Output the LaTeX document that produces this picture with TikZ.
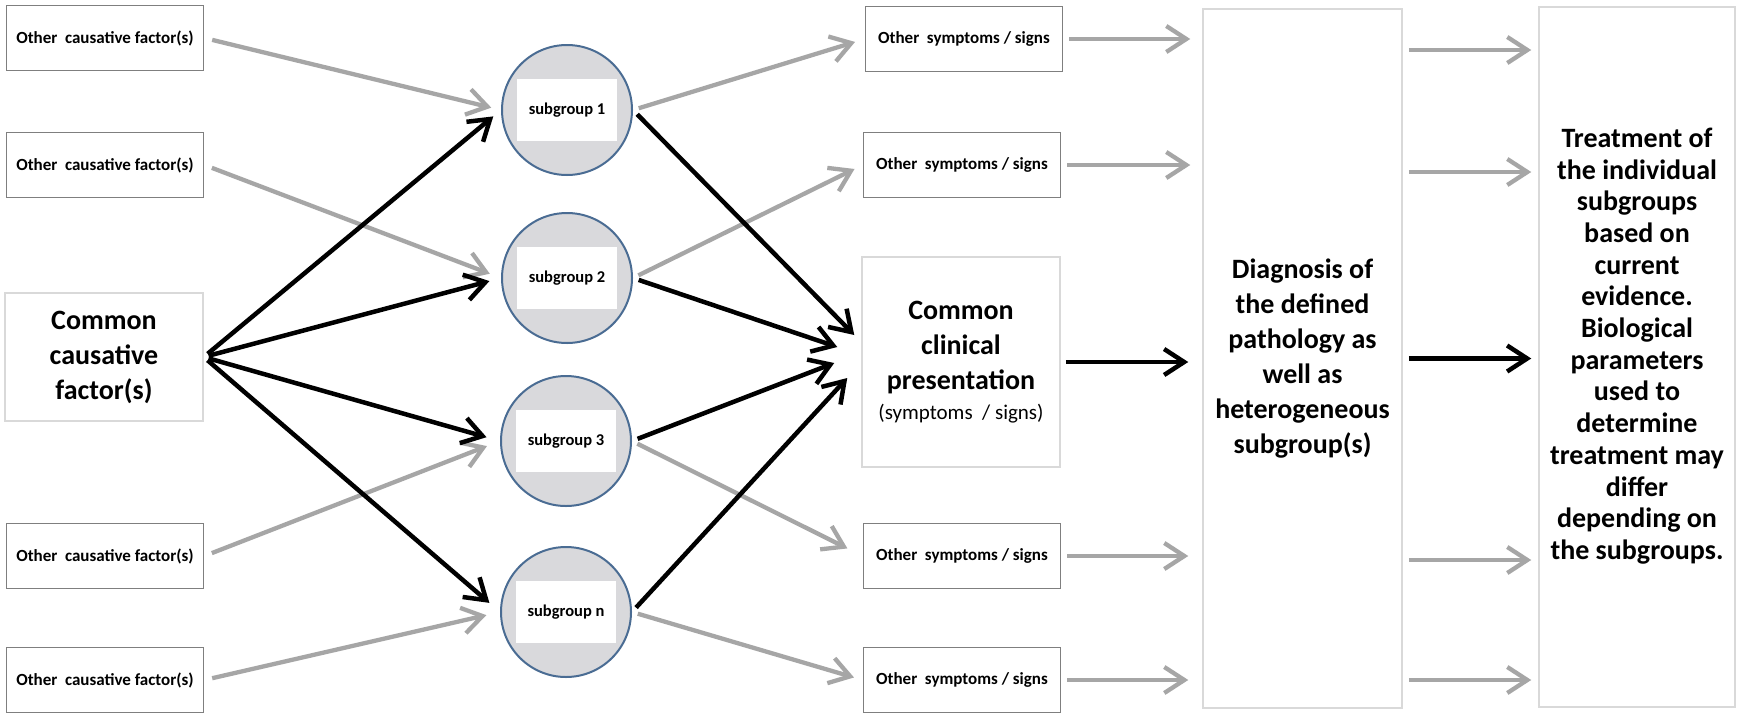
\documentclass[tikz,border=0pt]{standalone}
\usepackage{fontspec}
\setmainfont{Carlito}
\usetikzlibrary{arrows.meta,calc}
\definecolor{arrgray}{HTML}{A6A6A6}
\definecolor{boxline}{HTML}{7F7F7F}
\definecolor{lightline}{HTML}{D9D9D9}
\definecolor{circfill}{HTML}{D9D9DC}
\definecolor{circline}{HTML}{4A6C93}
\begin{document}
\begin{tikzpicture}[x=1pt,y=-1pt,
  smallbox/.style={draw=boxline,line width=1.8pt,minimum width=197pt,minimum height=65pt,inner sep=0pt,font=\fontsize{17}{19}\selectfont\bfseries},
  bigbox/.style={draw=lightline,line width=1.5pt,inner sep=0pt,align=center,font=\fontsize{28}{35}\selectfont\bfseries},
  bigtext/.style={inner sep=0pt,align=center,font=\fontsize{28}{31.7}\selectfont\bfseries},
  sgcirc/.style={circle,draw=circline,line width=2pt,fill=circfill,minimum size=130pt,inner sep=0pt},
  sglabel/.style={fill=white,minimum width=100pt,minimum height=62pt,inner sep=0pt,font=\fontsize{16.5}{19}\selectfont\bfseries},
  garrow/.style={draw=arrgray,line width=4.3pt,-{Straight Barb[length=20pt,width=26pt]}},
  barrow/.style={draw=black,line width=4.5pt,-{Straight Barb[length=20pt,width=26pt]}},
]
\fill[white] (0,0) rectangle (1742,715);
\useasboundingbox (0,0) rectangle (1742,715);

% left column
\node[smallbox] (o1) at (105,38) {Other\ \ causative factor(s)};
\node[smallbox] (o2) at (105,165) {Other\ \ causative factor(s)};
\node[smallbox] (o3) at (105,556) {Other\ \ causative factor(s)};
\node[smallbox] (o4) at (105,680) {Other\ \ causative factor(s)};
\node[bigbox,minimum width=198pt,minimum height=128pt] (cc) at (104,357) {Common\\causative\\factor(s)};

% subgroups
\node[sgcirc] (s1) at (567,110) {};
\node[sglabel] (s1t) at (s1) {subgroup 1};
\node[sgcirc] (s2) at (567,278) {};
\node[sglabel] (s2t) at (s2) {subgroup 2};
\node[sgcirc] (s3) at (566,441) {};
\node[sglabel] (s3t) at (s3) {subgroup 3};
\node[sgcirc] (sn) at (566,612) {};
\node[sglabel] (snt) at (sn) {subgroup n};

% symptoms
\node[smallbox] (sy1) at (964,39) {Other\ \ symptoms / signs};
\node[smallbox] (sy2) at (962,165) {Other\ \ symptoms / signs};
\node[smallbox] (sy3) at (962,556) {Other\ \ symptoms / signs};
\node[smallbox] (sy4) at (962,680) {Other\ \ symptoms / signs};
\node[bigbox,minimum width=198pt,minimum height=210pt] (cp) at (961,362)
  {Common\\clinical\\presentation\\[-5pt]{\fontsize{21}{25}\selectfont\mdseries (symptoms\ \ / signs)}};

% diagnosis and treatment
\node[bigbox,minimum width=199pt,minimum height=699pt] (dg) at (1302.5,358.5)
  {Diagnosis of\\the defined\\pathology as\\well as\\heterogeneous\\subgroup(s)};
\node[bigbox,minimum width=196pt,minimum height=700pt] (tr) at (1637,357) {};
\node[bigtext] (trt) at ($(tr.center)+(0,-11)$)
  {Treatment of\\the individual\\subgroups\\based on\\current\\evidence.\\Biological\\parameters\\used to\\determine\\treatment may\\differ\\depending on\\the subgroups.};

% entry points into clinical presentation
\coordinate (in1) at ($(cp.west)+(-7,-27)$);
\coordinate (in2) at ($(cp.west)+(-24,-15)$);
\coordinate (in3) at ($(cp.west)+(-27,1)$);
\coordinate (in4) at ($(cp.west)+(-14,16)$);

% left connectors
\draw[garrow,shorten <=8pt,shorten >=10pt] (o1.east) -- (s1.west);
\draw[garrow,shorten <=8pt,shorten >=12pt] (o2.east) -- (s2.west);
\draw[garrow,shorten <=8pt,shorten >=14pt] (o3.east) -- (s3.west);
\draw[garrow,shorten <=8pt,shorten >=14pt] (o4.east) -- (sn.west);
\draw[barrow,shorten <=5pt,shorten >=10pt] (cc.east) -- (s1.west);
\draw[barrow,shorten <=5pt,shorten >=12pt] (cc.east) -- (s2.west);
\draw[barrow,shorten <=5pt,shorten >=14pt] (cc.east) -- (s3.west);
\draw[barrow,shorten <=5pt,shorten >=14pt] (cc.east) -- (sn.west);

% right of subgroups
\draw[garrow,shorten <=6pt,shorten >=10pt] (s1.east) -- (sy1.west);
\draw[garrow,shorten <=6pt,shorten >=9pt] (s2.east) -- (sy2.west);
\draw[garrow,shorten <=6pt,shorten >=17pt] (s3.east) -- (sy3.west);
\draw[garrow,shorten <=6pt,shorten >=9pt] (sn.east) -- (sy4.west);
\draw[barrow,shorten <=6pt] (s1.east) -- (in1);
\draw[barrow,shorten <=6pt] (s2.east) -- (in2);
\draw[barrow,shorten <=6pt] (s3.east) -- (in3);
\draw[barrow,shorten <=6pt] (sn.east) -- (in4);

% into diagnosis
\draw[garrow,shorten <=6pt,shorten >=12pt] (sy1.east) -- (sy1.east -| dg.west);
\draw[garrow,shorten <=6pt,shorten >=12pt] (sy2.east) -- (sy2.east -| dg.west);
\draw[garrow,shorten <=6pt,shorten >=14pt] (sy3.east) -- (sy3.east -| dg.west);
\draw[garrow,shorten <=6pt,shorten >=14pt] (sy4.east) -- (sy4.east -| dg.west);
\draw[barrow,shorten <=5pt,shorten >=14pt] (cp.east) -- (cp.east -| dg.west);

% into treatment
\draw[garrow,shorten <=6pt,shorten >=7pt] ($(dg.east|-sy1.east)+(0,11)$) -- ($(tr.west|-sy1.east)+(0,11)$);
\draw[garrow,shorten <=6pt,shorten >=7pt] ($(dg.east|-sy2.east)+(0,7)$) -- ($(tr.west|-sy2.east)+(0,7)$);
\draw[garrow,shorten <=6pt,shorten >=7pt] ($(dg.east|-sy3.east)+(0,4)$) -- ($(tr.west|-sy3.east)+(0,4)$);
\draw[garrow,shorten <=6pt,shorten >=7pt] (dg.east|-sy4.east) -- (tr.west|-sy4.east);
\draw[barrow,shorten <=6pt,shorten >=7pt] (dg.east) -- (dg.east -| tr.west);
\end{tikzpicture}
\end{document}
